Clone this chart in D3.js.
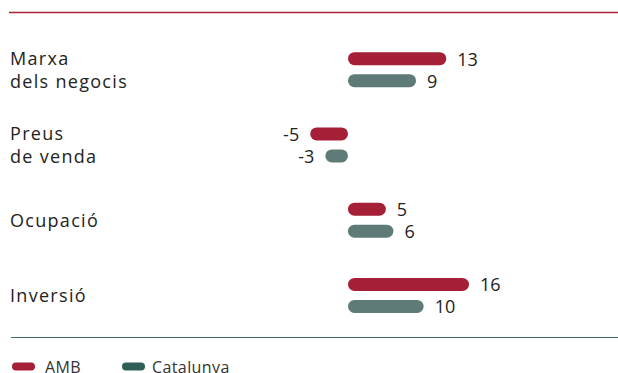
<!DOCTYPE html>
<head>
<meta charset="utf-8">
<script src="https://d3js.org/d3.v7.min.js"></script>
<style>
body { margin: 0; background: #fff; }
text { font-family: "Open Sans", sans-serif; fill: #222; }
</style>
</head>
<body>
<script>
var categories = [["Marxa", "dels negocis"], ["Preus", "de venda"], ["Ocupació"], ["Inversió"]];
var amb = [13, -5, 5, 16];
var catalunya = [9, -3, 6, 10];
var seriesNames = ["AMB", "Catalunya"];

var width = 618, height = 373;
var svg = d3.select("body").append("svg")
    .attr("width", width)
    .attr("height", height);

var x = d3.scaleLinear().domain([0, 16]).range([348, 469]);
var y = d3.scaleBand().domain(d3.range(categories.length)).range([32, 333]);
var barH = 13, off = 11;

// top and bottom rules
svg.append("line").attr("x1", 9).attr("x2", 618).attr("y1", 12.5).attr("y2", 12.5)
    .attr("stroke", "#a8243b").attr("stroke-width", 1.3);
svg.append("line").attr("x1", 11).attr("x2", 618).attr("y1", 337.5).attr("y2", 337.5)
    .attr("stroke", "#3f6b62").attr("stroke-width", 1);

var rows = categories.map(function(c, i) {
    return { label: c, vals: [amb[i], catalunya[i]], i: i };
});

var g = svg.selectAll(".row").data(rows).enter().append("g")
    .attr("transform", function(d) { return "translate(0," + (y(d.i) + y.bandwidth() / 2) + ")"; });

g.append("text")
    .attr("x", 10)
    .attr("font-size", 18)
    .style("letter-spacing", "1.3px")
    .each(function(d) {
        var t = d3.select(this);
        var n = d.label.length;
        d.label.forEach(function(s, k) {
            t.append("tspan").attr("x", 10)
                .attr("y", (k - (n - 1) / 2) * 23 + 7)
                .text(s);
        });
    });

var colors = ["#a51f37", "#5e7b78"];
g.selectAll("rect").data(function(d) { return d.vals; }).enter().append("rect")
    .attr("x", function(v) { return Math.min(x(0), x(v)); })
    .attr("width", function(v) { return Math.abs(x(v) - x(0)); })
    .attr("y", function(v, k) { return (k === 0 ? -off : off) - barH / 2; })
    .attr("height", barH)
    .attr("rx", barH / 2)
    .attr("fill", function(v, k) { return colors[k]; });

g.selectAll(".val").data(function(d) { return d.vals; }).enter().append("text")
    .attr("class", "val")
    .attr("x", function(v) { return v >= 0 ? x(v) + 11 : x(v) - 11; })
    .attr("y", function(v, k) { return (k === 0 ? -off : off) + 7; })
    .attr("text-anchor", function(v) { return v >= 0 ? "start" : "end"; })
    .attr("font-size", 18)
    .text(function(v) { return v; });

// legend
var legColors = ["#a51f37", "#2e5e57"];
var legX = [12, 122], legTextX = [33, 30];
var lg = svg.selectAll(".leg").data(seriesNames).enter().append("g")
    .attr("transform", function(d, i) { return "translate(" + legX[i] + ",366.5)"; });
lg.append("rect").attr("x", 0).attr("y", -4).attr("width", 23).attr("height", 8).attr("rx", 4)
    .attr("fill", function(d, i) { return legColors[i]; });
lg.append("text").attr("x", function(d, i) { return legTextX[i]; }).attr("y", 6).attr("font-size", 16)
    .style("letter-spacing", "0.4px")
    .style("fill", "#333")
    .text(function(d) { return d; });
</script>
</body>
